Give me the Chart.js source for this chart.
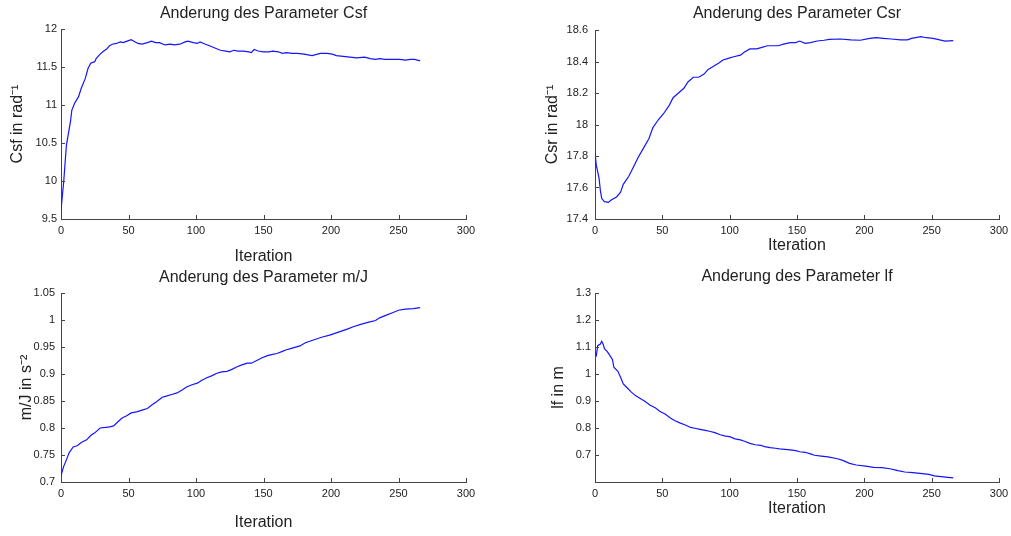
<!DOCTYPE html>
<html>
<head>
<meta charset="utf-8">
<script src="https://cdn.jsdelivr.net/npm/chart.js@4/dist/chart.umd.min.js"></script>
<style>
  body { margin: 0; background: #fff; width: 1011px; height: 536px; position: relative; overflow: hidden; }
  canvas { position: absolute; }
</style>
</head>
<body>
<canvas id="csf" width="510" height="270" style="left:0;top:0"></canvas>
<canvas id="csr" width="501" height="270" style="left:510px;top:0"></canvas>
<canvas id="mj" width="510" height="270" style="left:0;top:266px"></canvas>
<canvas id="lf" width="501" height="270" style="left:510px;top:266px"></canvas>
<script>
const FONT = "'Liberation Sans', Arial, sans-serif";
const TEXT = '#222';
const AXIS = '#444';
const LINE = 'rgb(20,20,255)';

const xTicks = [0, 50, 100, 150, 200, 250, 300];

// Csf
const iterCsf = [0,2,4,7,8,10,13,15,18,20, 22,25,26,29,31,34,36,38,41,44, 46,49,52,54,57,60,64,67,70,73,
  77,81,84,88,92,94,98,101,103,107, 110,114,118,122,125,128,131,135,139,141, 143,146,150,154,157,161,164,167,171,175,
  180,186,192,197,201,204,209,214,219,225, 229,233,236,240,244,247,251,255,259,262, 266];
const valCsf = [9.62,9.99,10.47,10.78,10.93,11.02,11.11,11.22,11.35,11.48, 11.55,11.57,11.61,11.67,11.70,11.74,11.78,11.80,11.81,11.83,
  11.82,11.84,11.86,11.84,11.81,11.80,11.82,11.84,11.82,11.82, 11.79,11.80,11.79,11.80,11.83,11.84,11.82,11.81,11.83,11.80,
  11.78,11.75,11.72,11.71,11.70,11.72,11.71,11.71,11.70,11.69, 11.73,11.71,11.70,11.70,11.71,11.70,11.68,11.69,11.68,11.68,
  11.67,11.65,11.68,11.68,11.67,11.65,11.64,11.63,11.62,11.63, 11.61,11.60,11.61,11.60,11.60,11.60,11.60,11.59,11.60,11.60, 11.58];
const yTicksCsf = [9.5, 10, 10.5, 11, 11.5, 12];

// Csr
const iterCsr = [0,1,3,4,5,7,10,12,16,19, 21,25,28,32,36,40,43,47,51,55, 58,62,66,69,73,77,81,84,88,92,
  95,99,103,108,111,115,120,124,128,131, 136,140,145,149,152,156,160,165,170,174, 182,190,197,204,209,214,220,227,232,235,
  242,246,251,256,260,266];
const valCsr = [17.82,17.74,17.66,17.58,17.53,17.51,17.505,17.52,17.54,17.57, 17.62,17.67,17.72,17.79,17.85,17.91,17.98,18.03,18.07,18.12,
  18.17,18.20,18.23,18.27,18.30,18.30,18.32,18.35,18.37,18.39, 18.41,18.42,18.43,18.44,18.46,18.48,18.48,18.49,18.50,18.50,
  18.50,18.51,18.52,18.52,18.53,18.515,18.52,18.53,18.535,18.54, 18.543,18.537,18.535,18.547,18.551,18.547,18.543,18.537,18.537,18.547,
  18.558,18.551,18.547,18.537,18.53,18.532];
const yTicksCsr = [17.4, 17.6, 17.8, 18, 18.2, 18.4, 18.6];

// m/J
const iterMJ = [0,2,4,6,9,12,15,19,22,25, 29,33,36,39,42,45,49,52,56,60, 64,67,71,75,78,82,86,90,93,97,
  101,104,108,112,115,119,123,127,130,134, 138,141,145,149,153,156,160,164,167,170, 177,181,187,193,199,205,212,217,222,228,
  233,236,241,246,250,255,261,266];
const valMJ = [0.712,0.729,0.741,0.754,0.765,0.767,0.773,0.778,0.786,0.791, 0.800,0.801,0.802,0.804,0.811,0.818,0.823,0.828,0.830,0.833,
  0.836,0.842,0.849,0.857,0.859,0.862,0.865,0.871,0.876,0.880, 0.883,0.888,0.893,0.897,0.901,0.904,0.905,0.909,0.913,0.917,
  0.920,0.920,0.925,0.930,0.934,0.936,0.938,0.942,0.945,0.947, 0.952,0.958,0.963,0.968,0.972,0.977,0.983,0.988,0.992,0.996,
  0.999,1.004,1.009,1.014,1.018,1.020,1.021,1.023];
const yTicksMJ = [0.7, 0.75, 0.8, 0.85, 0.9, 0.95, 1, 1.05];

// lf
const iterLf = [0,1,2,4,5,6,7,9,11,13, 14,17,19,21,24,27,30,33,37,41, 45,48,52,56,59,63,67,71,74,78,
  82,85,89,93,97,100,104,108,111,115, 119,123,126,130,134,137,141,145,149,152, 156,160,163,168,173,180,184,189,194,201,
  207,213,219,225,230,236,243,248,252,257, 262,266];
const valLf = [1.078,1.069,1.105,1.111,1.121,1.111,1.094,1.084,1.069,1.053, 1.025,1.010,0.988,0.963,0.948,0.933,0.920,0.911,0.899,0.884,
  0.874,0.862,0.852,0.837,0.828,0.819,0.811,0.802,0.799,0.795, 0.791,0.788,0.783,0.775,0.770,0.768,0.760,0.756,0.751,0.743,
  0.738,0.736,0.731,0.727,0.725,0.723,0.721,0.719,0.716,0.712, 0.710,0.704,0.699,0.696,0.693,0.686,0.680,0.669,0.663,0.659,
  0.654,0.653,0.649,0.642,0.637,0.635,0.631,0.628,0.623,0.620, 0.617,0.615];
const yTicksLf = [0.7, 0.8, 0.9, 1, 1.1, 1.2, 1.3];

Chart.defaults.font.family = FONT;
Chart.defaults.color = TEXT;

// matlab style ticks pointing into the plot
const inwardTicks = {
  id: 'inwardTicks',
  afterDraw(chart) {
    const { ctx, chartArea: a, scales: { x, y } } = chart;
    ctx.save();
    ctx.strokeStyle = AXIS;
    ctx.lineWidth = 1;
    ctx.beginPath();
    x.ticks.forEach(t => {
      const px = Math.round(x.getPixelForValue(t.value)) + 0.5;
      ctx.moveTo(px, a.bottom);
      ctx.lineTo(px, a.bottom - 4);
    });
    y.ticks.forEach(t => {
      const py = Math.round(y.getPixelForValue(t.value)) + 0.5;
      ctx.moveTo(a.left, py);
      ctx.lineTo(a.left + 4, py);
    });
    ctx.stroke();
    ctx.restore();
  }
};

function makeChart(id, box, g, s) {
  const half = 9.6; // 16px * 1.2 / 2
  const rel = {
    l: g.l - box.x, r: g.r - box.x, t: g.t - box.y, b: g.b - box.y,
    ty: g.titleY - box.y, xy: g.xlabY - box.y, yx: g.ylabX - box.x
  };
  const padL = rel.yx - half;
  const padB = box.h - (rel.xy + half);
  const data = s.xs.map((x, i) => ({ x: x, y: s.ys[i] }));

  return new Chart(document.getElementById(id), {
    type: 'line',
    data: {
      datasets: [{
        data: data,
        borderColor: LINE,
        borderWidth: 1.2,
        pointRadius: 0,
        tension: 0,
        fill: false
      }]
    },
    options: {
      responsive: false,
      animation: false,
      devicePixelRatio: 1,
      layout: { padding: { left: padL, right: box.w - rel.r, top: 0, bottom: padB } },
      plugins: {
        legend: { display: false },
        tooltip: { enabled: false },
        title: {
          display: true,
          fullSize: false,
          text: s.title,
          color: TEXT,
          font: { size: 16, weight: 'normal', lineHeight: 1.2 },
          padding: { top: rel.ty - half, bottom: rel.t - rel.ty - half }
        }
      },
      scales: {
        x: {
          type: 'linear',
          min: 0, max: 300,
          afterBuildTicks: sc => { sc.ticks = xTicks.map(v => ({ value: v })); },
          afterFit: sc => { sc.height = rel.xy + half - rel.b; sc.paddingLeft = 0; sc.paddingRight = 0; },
          grid: { display: true, drawOnChartArea: false, drawTicks: false },
          border: { display: true, color: AXIS, width: 1 },
          ticks: { padding: 5, maxRotation: 0, font: { size: 11 }, color: TEXT, callback: v => String(v) },
          title: { display: true, text: 'Iteration', color: TEXT, font: { size: 16, lineHeight: 1.2 }, padding: { top: 0, bottom: 0 } }
        },
        y: {
          type: 'linear',
          min: s.ymin, max: s.ymax,
          afterBuildTicks: sc => { sc.ticks = s.yticks.map(v => ({ value: v })); },
          afterFit: sc => { sc.width = rel.l - padL; sc.paddingTop = 0; sc.paddingBottom = 0; },
          grid: { display: true, drawOnChartArea: false, drawTicks: false },
          border: { display: true, color: AXIS, width: 1 },
          ticks: { padding: g.yPad, font: { size: 11 }, color: TEXT, callback: v => String(v) },
          title: { display: true, text: s.ylabel, color: TEXT, font: { size: 16, lineHeight: 1.2 }, padding: { top: 0, bottom: 0 } }
        }
      }
    },
    plugins: [inwardTicks]
  });
}

makeChart('csf', { x: 0, y: 0, w: 510, h: 270 },
  { l: 61, r: 466, t: 29, b: 219, titleY: 14, xlabY: 257, ylabX: 18, yPad: 4 },
  { title: 'Anderung des Parameter Csf', ylabel: 'Csf in rad\u207B\u00B9', xs: iterCsf, ys: valCsf, ymin: 9.5, ymax: 12, yticks: yTicksCsf });

makeChart('csr', { x: 510, y: 0, w: 501, h: 270 },
  { l: 595, r: 999, t: 30, b: 219, titleY: 14, xlabY: 246, ylabX: 553, yPad: 7 },
  { title: 'Anderung des Parameter Csr', ylabel: 'Csr in rad\u207B\u00B9', xs: iterCsr, ys: valCsr, ymin: 17.4, ymax: 18.6, yticks: yTicksCsr });

makeChart('mj', { x: 0, y: 266, w: 510, h: 270 },
  { l: 61, r: 466, t: 293, b: 482, titleY: 278, xlabY: 523, ylabX: 27, yPad: 6 },
  { title: 'Anderung des Parameter m/J', ylabel: 'm/J in s\u207B\u00B2', xs: iterMJ, ys: valMJ, ymin: 0.7, ymax: 1.05, yticks: yTicksMJ });

makeChart('lf', { x: 510, y: 266, w: 501, h: 270 },
  { l: 595, r: 999, t: 293, b: 482, titleY: 277, xlabY: 509, ylabX: 559, yPad: 4 },
  { title: 'Anderung des Parameter lf', ylabel: 'lf in m', xs: iterLf, ys: valLf, ymin: 0.6, ymax: 1.3, yticks: yTicksLf });
</script>
</body>
</html>
